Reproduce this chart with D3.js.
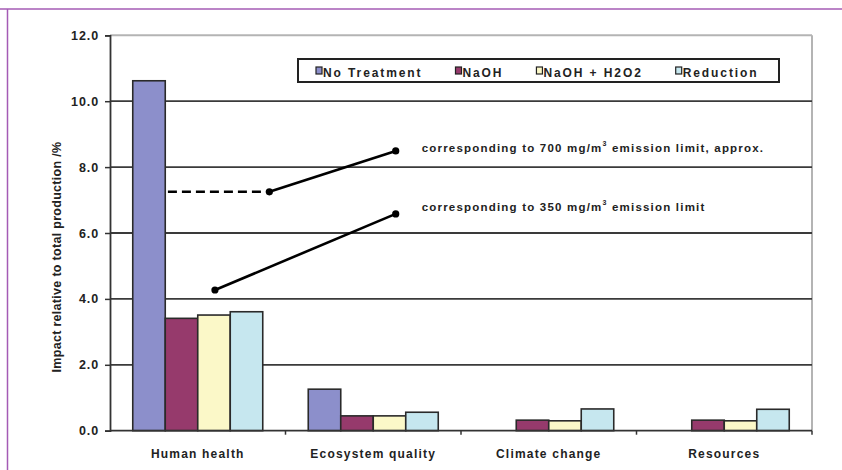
<!DOCTYPE html>
<html>
<head>
<meta charset="utf-8">
<script src="https://cdn.jsdelivr.net/npm/d3@7"></script>
<style>
  html, body { margin: 0; padding: 0; background: #fff; }
  svg { display: block; }
  text { font-family: "Liberation Sans", Arial, sans-serif; font-weight: bold; fill: #222; }
</style>
</head>
<body>
<svg id="chart" width="842" height="470"></svg>
<script>
// Impact categories and treatment series
const categories = ["Human health", "Ecosystem quality", "Climate change", "Resources"];
const seriesNames = ["No Treatment", "NaOH", "NaOH + H2O2", "Reduction"];
const seriesColors = ["#8c8fcb", "#963a6c", "#fbf8c8", "#c6e7ef"];

// values per series, one entry per category (%)
const noTreatment = [10.62, 1.26, 0.0, 0.0];
const naoh        = [3.41, 0.45, 0.32, 0.32];
const naohH2o2    = [3.51, 0.45, 0.30, 0.30];
const reduction   = [3.61, 0.56, 0.66, 0.65];
const seriesValues = [noTreatment, naoh, naohH2o2, reduction];

const yTicks = [0, 2, 4, 6, 8, 10, 12];

// emission-limit guide lines: x in category units, y in %
const limit700Dashed = [[0.33, 7.25], [0.908, 7.25]];
const limit700Solid  = [[0.908, 7.25], [1.628, 8.49]];
const limit350Solid  = [[0.598, 4.27], [1.628, 6.58]];
const limitLabels = [
  { text: "corresponding to 700 mg/m", sup: "3", tail: " emission limit, approx.", at: [1.628, 8.49] },
  { text: "corresponding to 350 mg/m", sup: "3", tail: " emission limit", at: [1.628, 6.58] }
];

const svg = d3.select("#chart");
const plotLeft = 110, plotRight = 812, plotTop = 35.3, plotBottom = 430.7;

// outer frame lines
svg.append("line").attr("x1", 0).attr("x2", 842).attr("y1", 9).attr("y2", 9)
  .attr("stroke", "#a45bb5").attr("stroke-width", 1.5);
svg.append("line").attr("x1", 7.5).attr("x2", 7.5).attr("y1", 9).attr("y2", 470)
  .attr("stroke", "#a45bb5").attr("stroke-width", 1.5);

const y = d3.scaleLinear().domain([0, 12]).range([plotBottom, plotTop]);
const x0 = d3.scaleBand().domain(categories).range([plotLeft, plotRight]).paddingInner(0).paddingOuter(0);
const x1 = d3.scaleBand().domain(seriesNames).range([0, x0.bandwidth()]).paddingInner(0).paddingOuter(0.7);
const xc = d3.scaleLinear().domain([0, categories.length]).range([plotLeft, plotRight]);

// plot border (top and right)
svg.append("line").attr("x1", plotLeft).attr("x2", plotRight).attr("y1", y(12)).attr("y2", y(12))
  .attr("stroke", "#b4b4b4").attr("stroke-width", 2);
svg.append("line").attr("x1", plotRight).attr("x2", plotRight).attr("y1", y(12)).attr("y2", plotBottom)
  .attr("stroke", "#b4b4b4").attr("stroke-width", 2);

// horizontal gridlines
svg.append("g").selectAll("line").data(yTicks.filter(d => d > 0 && d < 12)).join("line")
  .attr("x1", plotLeft).attr("x2", plotRight)
  .attr("y1", d => y(d)).attr("y2", d => y(d))
  .attr("stroke", "#3a3a3a").attr("stroke-width", 1.8);

// y axis
const yAxis = svg.append("g").attr("transform", `translate(${plotLeft},0)`)
  .call(d3.axisLeft(y).tickValues(yTicks).tickFormat(d3.format(".1f")).tickSize(5).tickPadding(6));
yAxis.select(".domain").attr("stroke", "#333").attr("stroke-width", 1.8);
yAxis.selectAll(".tick line").attr("stroke", "#333").attr("stroke-width", 1.5);
yAxis.selectAll(".tick text").attr("font-size", 12.5).attr("letter-spacing", "0.9px")
  .attr("font-family", null).attr("fill", "#222");

// y title
svg.append("text")
  .attr("transform", `translate(57,257) rotate(-90)`)
  .attr("text-anchor", "middle").attr("dominant-baseline", "central")
  .attr("font-size", 12.5).attr("letter-spacing", "0.3px")
  .text("Impact relative to total production /%");

// bars
const groups = svg.append("g").selectAll("g").data(categories).join("g")
  .attr("transform", d => `translate(${x0(d)},0)`);
groups.selectAll("rect")
  .data((c, ci) => seriesNames.map((s, si) => ({ s, si, v: seriesValues[si][ci] })).filter(d => d.v > 0))
  .join("rect")
  .attr("x", d => x1(d.s)).attr("width", x1.bandwidth())
  .attr("y", d => y(d.v)).attr("height", d => y(0) - y(d.v))
  .attr("fill", d => seriesColors[d.si])
  .attr("stroke", "#2a2a2a").attr("stroke-width", 1.6);

// x axis
const xAxis = svg.append("g").attr("transform", `translate(0,${plotBottom})`);
xAxis.append("line").attr("x1", plotLeft).attr("x2", plotRight).attr("stroke", "#333").attr("stroke-width", 1.8);
xAxis.selectAll(".xt").data(d3.range(1, categories.length + 1)).join("line").attr("class", "xt")
  .attr("x1", d => xc(d)).attr("x2", d => xc(d)).attr("y1", 0).attr("y2", 4)
  .attr("stroke", "#333").attr("stroke-width", 1.5);
xAxis.selectAll("text").data(categories).join("text")
  .attr("x", d => x0(d) + x0.bandwidth() / 2).attr("y", 27)
  .attr("text-anchor", "middle").attr("font-size", 12).attr("letter-spacing", "1.2px")
  .text(d => d);

// emission-limit lines
const line = d3.line().x(d => xc(d[0])).y(d => y(d[1]));
svg.append("path").attr("d", line(limit700Dashed)).attr("fill", "none")
  .attr("stroke", "#000").attr("stroke-width", 2.6).attr("stroke-dasharray", "9,5");
[limit700Solid, limit350Solid].forEach(seg => {
  svg.append("path").attr("d", line(seg)).attr("fill", "none")
    .attr("stroke", "#000").attr("stroke-width", 2.6);
});
svg.append("g").selectAll("circle")
  .data([limit700Solid[0], limit700Solid[1], limit350Solid[0], limit350Solid[1]])
  .join("circle").attr("cx", d => xc(d[0])).attr("cy", d => y(d[1])).attr("r", 3.6).attr("fill", "#000");

// guide labels
limitLabels.forEach((l, i) => {
  const t = svg.append("text")
    .attr("x", xc(l.at[0]) + 26).attr("y", y(l.at[1]) + (i === 0 ? 1 : -3))
    .attr("font-size", 11.5).attr("letter-spacing", "1.2px");
  t.append("tspan").text(l.text);
  t.append("tspan").attr("font-size", 7).attr("dy", -6).text(l.sup);
  t.append("tspan").attr("dy", 6).text(l.tail);
});

// legend
const legend = svg.append("g");
legend.append("rect").attr("x", 298).attr("y", 59).attr("width", 481).attr("height", 23)
  .attr("fill", "#fff").attr("stroke", "#222").attr("stroke-width", 2);
let lx = 316;
seriesNames.forEach((s, i) => {
  legend.append("rect").attr("x", lx).attr("y", 67).attr("width", 6).attr("height", 7)
    .attr("fill", seriesColors[i]).attr("stroke", "#222").attr("stroke-width", 1.2);
  const t = legend.append("text").attr("x", lx + 7).attr("y", 76.5)
    .attr("font-size", 12).attr("letter-spacing", "1.9px").text(s);
  lx += 7 + t.node().getComputedTextLength() + 33;
});
</script>
</body>
</html>
